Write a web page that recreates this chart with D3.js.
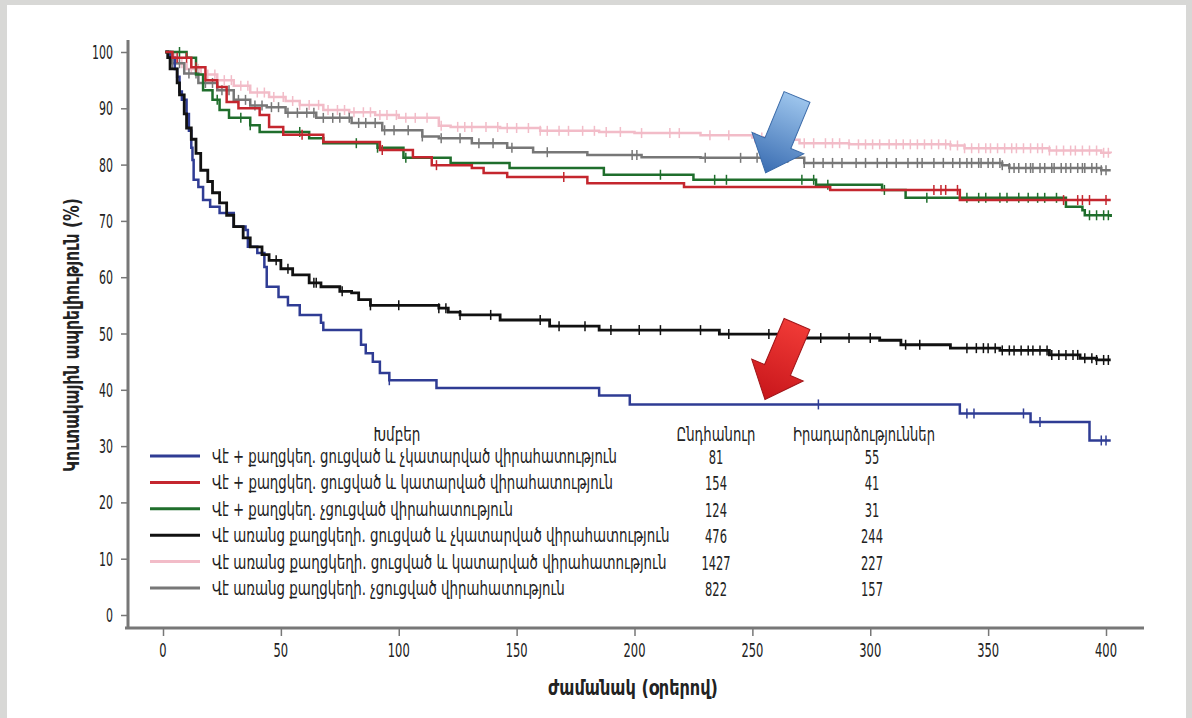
<!DOCTYPE html>
<html>
<head>
<meta charset="utf-8">
<script src="https://cdn.jsdelivr.net/npm/d3@7"></script>
<style>
  body { margin: 0; background: #d8d8d6; }
  svg { display: block; }
  text { font-family: "Liberation Sans Narrow", "DejaVu Sans Condensed", sans-serif; fill: #222; }
</style>
</head>
<body>
<svg id="chart" width="1192" height="718"></svg>
<script>
// group labels, colours and counts for the table legend
var groupNames = [
  "Վէ + քաղցկեղ. ցուցված և չկատարված վիրահատություն",
  "Վէ + քաղցկեղ. ցուցված և կատարված վիրահատություն",
  "Վէ + քաղցկեղ. չցուցված վիրահատություն",
  "Վէ առանց քաղցկեղի. ցուցված և չկատարված վիրահատություն",
  "Վէ առանց քաղցկեղի. ցուցված և կատարված վիրահատություն",
  "Վէ առանց քաղցկեղի. չցուցված վիրահատություն"
];
var groupColors = ["#2f3c94", "#c4262e", "#1f6e2c", "#111111", "#f2bcc8", "#777777"];
var totals = ["81", "154", "124", "476", "1427", "822"];
var events = ["55", "41", "31", "244", "227", "157"];

var xTicks = [0, 50, 100, 150, 200, 250, 300, 350, 400];
var yTicks = [0, 10, 20, 30, 40, 50, 60, 70, 80, 90, 100];

// step curves: [day, survival %] after each drop
var blueSteps = [[1,100],[3,99],[5,97],[6,95.6],[7,93],[8,91.5],[10,89],[11,86],[12,83],[12.5,80.8],[13,77.3],[15,76],[17,73.7],[20,72.5],[24,71.4],[30,69],[35,68.4],[36,65.4],[40,64.3],[43,61.8],[44,58.3],[49,56.5],[53,55],[58,53.3],[67,51.9],[68,50.6],[84,48],[86,46.5],[89,45],[92,43],[96,41.7],[116,40.3],[185,39],[198,37.4],[338,35.8],[368,34.3],[393,31],[402,31]];
var redSteps = [[1,100],[4,99],[12,97.3],[18,95],[23,93.8],[27,91.1],[32,90],[41,88.8],[45,86.7],[51,85.3],[68,84],[92,82.6],[106,81.3],[114,79.9],[131,79.4],[136,78.5],[146,77.8],[180,76.7],[221,76],[283,75.5],[338,73.7],[402,73.7]];
var greenSteps = [[1,100],[10,99],[14,96],[17,93.2],[21,91.5],[24,89.7],[28,88.3],[37,87],[41,85.8],[62,84.7],[68,83.8],[91,83],[102,81.2],[122,80.3],[147,79.4],[187,78.2],[225,77.3],[277,76.4],[305,75.5],[315,74.1],[383,72.5],[390,71.9],[391,71],[402,70.7]];
var blackSteps = [[1,100],[2,99],[3,97],[6,94.5],[7,92.4],[9,89],[10,86.5],[12,84.5],[14,82],[16,79],[19,77],[21,75],[24,73.2],[27,71],[30,69],[34,67],[37,65.4],[42,64],[45,63],[50,61.5],[55,60.4],[62,59],[67,58.3],[75,57.5],[80,57.2],[83,56],[88,55],[117,54.5],[121,53.8],[126,53.3],[143,52.4],[164,51.3],[185,50.6],[236,49.9],[266,49.2],[304,48.8],[313,48],[334,47.4],[355,47],[376,46.2],[389,45.6],[396,45.3],[402,45.3]];
var pinkSteps = [[1,100],[3,99],[6,98],[10,97],[16,96],[23,95],[30,94],[37,92.8],[45,92],[52,91.3],[58,90.6],[68,89.7],[79,89.3],[90,88.8],[100,88.3],[117,86.9],[122,86.7],[143,86.5],[160,86],[185,85.8],[200,85.6],[228,85.2],[250,84.8],[262,84.4],[270,83.8],[291,83.6],[334,83.4],[340,82.9],[376,82.5],[398,82.1],[402,82]];
var graySteps = [[1,100],[4,98],[9,96.2],[15,94.5],[23,93.2],[30,91.5],[37,90.5],[44,90.2],[52,89.2],[65,88.3],[80,87.4],[93,86.1],[110,85],[117,84.7],[131,83.8],[146,83],[157,82.2],[180,81.7],[203,81.3],[228,81.2],[272,80.3],[356,79.9],[359,79.4],[398,79],[402,79]];

// censoring days
var blueCens = [96, 278, 341, 344, 365, 372, 398, 400];
var redCens = [6, 10, 14, 59, 93, 116, 170, 327, 330, 332, 337, 382, 388, 390, 393, 400];
var greenCens = [7, 23, 33, 37, 58, 82, 91, 103, 211, 234, 239, 271, 276, 282, 306, 324, 341, 346, 349, 355, 358, 363, 367, 371, 374, 379, 393, 396, 399, 401];
var blackCens = [48, 53, 64, 65, 76, 88, 100, 117, 120, 126, 139, 160, 168, 179, 190, 202, 211, 228, 240, 257, 279, 291, 300, 315, 321, 341, 345, 348, 350, 353, 356, 359, 361, 364, 367, 369, 372, 375, 377, 380, 383, 386, 388, 391, 394, 396, 399, 401];
var pinkCens = [5, 8, 12, 15, 19, 22, 26, 29, 33, 36, 40, 43, 47, 51, 55, 58, 62, 66, 70, 74, 77, 81, 85, 88, 92, 95, 99, 103, 107, 112, 118, 125, 128, 131, 137, 142, 146, 150, 155, 160, 163, 168, 172, 178, 183, 188, 194, 203, 215, 219, 232, 240, 251, 254, 259, 262, 266, 272, 276, 281, 284, 287, 291, 295, 298, 301, 304, 308, 311, 314, 317, 320, 323, 326, 329, 332, 334, 337, 340, 343, 346, 349, 351, 354, 357, 360, 362, 365, 368, 371, 373, 376, 379, 382, 385, 387, 390, 393, 396, 399, 401];
var grayCens = [4, 7, 11, 14, 18, 21, 25, 28, 32, 35, 39, 42, 46, 49, 53, 57, 61, 64, 68, 72, 75, 79, 83, 86, 90, 94, 98, 104, 110, 118, 126, 134, 140, 148, 163, 199, 201, 230, 245, 252, 265, 272, 276, 280, 284, 288, 294, 298, 303, 307, 311, 316, 320, 322, 327, 331, 335, 338, 341, 343, 346, 347, 350, 352, 355, 356, 359, 361, 363, 366, 368, 369, 372, 374, 377, 378, 381, 383, 385, 388, 390, 391, 394, 396, 398, 400];

var svg = d3.select("#chart");

// white card
svg.append("rect").attr("x", 7).attr("y", 5).attr("width", 1179).attr("height", 720)
  .attr("fill", "#fff");

var x = d3.scaleLinear().domain([0, 400]).range([163, 1106]);
var y = d3.scaleLinear().domain([0, 100]).range([615, 52]);

// squeeze a text horizontally to a given width (the original uses a condensed face)
function fitText(g, px, py, str, width, anchor, size, bold, rot) {
  var t = g.append("text").attr("font-size", size).text(str);
  if (bold) t.attr("font-weight", "bold");
  var len = t.node().getComputedTextLength();
  var sx = width / len;
  var dx = anchor === "middle" ? -width / 2 : 0;
  t.attr("transform", "translate(" + px + "," + py + ")" + (rot ? " rotate(" + rot + ")" : "") +
    " translate(" + dx + ",0) scale(" + sx + ",1)");
  return t;
}

// axes
var yAxis = svg.append("g").attr("transform", "translate(128,0)")
  .call(d3.axisLeft(y).tickValues(yTicks).tickSize(7).tickFormat(""));
var xAxis = svg.append("g").attr("transform", "translate(0,628)")
  .call(d3.axisBottom(x).tickValues(xTicks).tickSize(8).tickFormat(""));
[yAxis, xAxis].forEach(function (g) {
  g.select(".domain").remove();
  g.selectAll("line").attr("stroke", "#777").attr("stroke-width", 1.5);
});
yTicks.forEach(function (v) {
  var s = String(v);
  fitText(svg, 113 - s.length * 7, y(v) + 7, s, s.length * 7, "start", 20);
});
xTicks.forEach(function (v) {
  var s = String(v);
  fitText(svg, x(v), 657, s, s.length * 7.3, "middle", 20);
});
svg.append("line").attr("x1", 128).attr("x2", 128).attr("y1", 40).attr("y2", 629)
  .attr("stroke", "#777").attr("stroke-width", 3);
svg.append("line").attr("x1", 125).attr("x2", 1144).attr("y1", 628).attr("y2", 628)
  .attr("stroke", "#777").attr("stroke-width", 3);

// axis titles
fitText(svg, 633, 695, "ժամանակ (օրերով)", 170, "middle", 21, true);
fitText(svg, 79, 335, "Կուտակային ապրելիություն (%)", 274, "middle", 21, true, -90);

// curves
var stepLine = d3.line().x(function (d) { return x(d[0]); })
  .y(function (d) { return y(d[1]); }).curve(d3.curveStepAfter);

function valueAt(steps, t) {
  var v = steps[0][1];
  steps.forEach(function (d) { if (d[0] <= t) v = d[1]; });
  return v;
}

var curves = [
  { steps: pinkSteps, cens: pinkCens, color: groupColors[4], w: 2.5 },
  { steps: graySteps, cens: grayCens, color: groupColors[5], w: 2.5 },
  { steps: blueSteps, cens: blueCens, color: groupColors[0], w: 2.5 },
  { steps: blackSteps, cens: blackCens, color: groupColors[3], w: 2.8 },
  { steps: greenSteps, cens: greenCens, color: groupColors[2], w: 2.5 },
  { steps: redSteps, cens: redCens, color: groupColors[1], w: 2.5 }
];

curves.forEach(function (c) {
  svg.append("path").datum(c.steps).attr("d", stepLine)
    .attr("fill", "none").attr("stroke", c.color).attr("stroke-width", c.w);
  svg.append("g").selectAll("line").data(c.cens).join("line")
    .attr("x1", function (t) { return x(t); }).attr("x2", function (t) { return x(t); })
    .attr("y1", function (t) { return y(valueAt(c.steps, t)) - 5; })
    .attr("y2", function (t) { return y(valueAt(c.steps, t)) + 5; })
    .attr("stroke", c.color).attr("stroke-width", 1.5);
});

// arrows
var defs = svg.append("defs");
var grad = defs.append("linearGradient").attr("id", "blueGrad")
  .attr("x1", "0").attr("y1", "0").attr("x2", "1").attr("y2", "0");
grad.append("stop").attr("offset", "0%").attr("stop-color", "#9cc4ec");
grad.append("stop").attr("offset", "100%").attr("stop-color", "#3a6db2");
var redGrad = defs.append("linearGradient").attr("id", "redGrad")
  .attr("x1", "0").attr("y1", "0").attr("x2", "1").attr("y2", "0");
redGrad.append("stop").attr("offset", "0%").attr("stop-color", "#f03a36");
redGrad.append("stop").attr("offset", "100%").attr("stop-color", "#c8161b");

var arrowShape = [[0, -14], [50, -14], [50, -28], [82, 0], [50, 28], [50, 14], [0, 14]];
function drawArrow(cx, cy, angle, fill, stroke) {
  svg.append("path")
    .attr("d", d3.line()(arrowShape) + "Z")
    .attr("transform", "translate(" + cx + "," + cy + ") rotate(" + angle + ")")
    .attr("fill", fill).attr("stroke", stroke).attr("stroke-width", 1);
}
drawArrow(797, 97, 112.5, "url(#blueGrad)", "#3a6aa8");
drawArrow(797, 324, 113, "url(#redGrad)", "#a01418");

// legend table
fitText(svg, 397, 441, "Խմբեր", 47, "middle", 19);
fitText(svg, 716, 441, "Ընդհանուր", 79, "middle", 19);
fitText(svg, 864, 441, "Իրադարձություններ", 142, "middle", 19);

var labelWidths = [405, 401, 301, 458, 455, 353];
var rowY = d3.scaleLinear().domain([0, 5]).range([456, 588]);
groupNames.forEach(function (name, i) {
  var ry = rowY(i);
  svg.append("line").attr("x1", 150).attr("x2", 200).attr("y1", ry).attr("y2", ry)
    .attr("stroke", groupColors[i]).attr("stroke-width", 3);
  fitText(svg, 212, ry + 7, name, labelWidths[i], "start", 19);
  fitText(svg, 716, ry + 8, totals[i], totals[i].length * 7.3, "middle", 20);
  fitText(svg, 872, ry + 8, events[i], events[i].length * 7.3, "middle", 20);
});
</script>
</body>
</html>
